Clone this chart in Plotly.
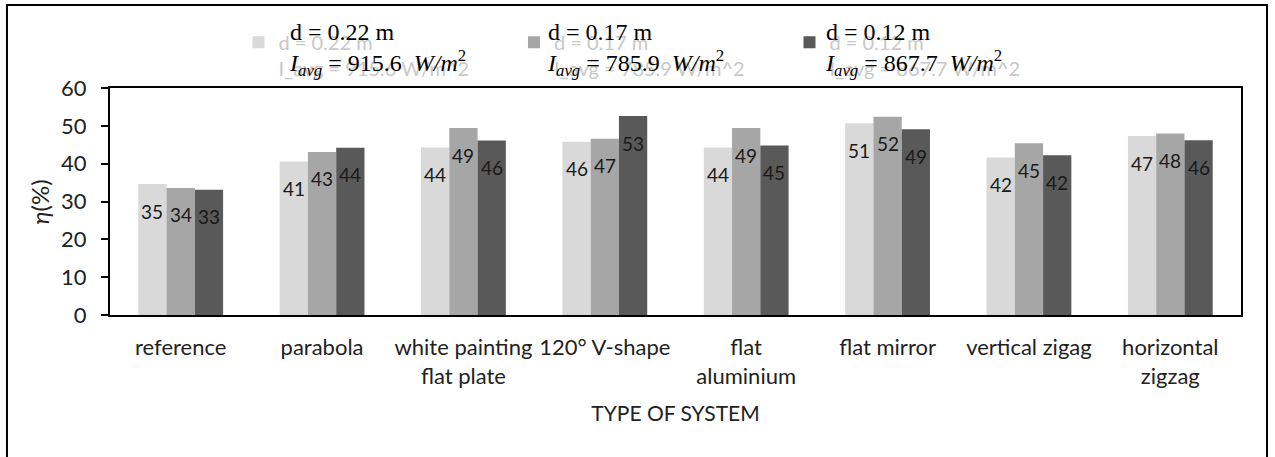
import numpy as np
import plotly.graph_objects as go

categories = ["reference", "parabola", "white painting<br>flat plate", "120° V-shape",
              "flat<br>aluminium", "flat mirror", "vertical zigag", "horizontal<br>zigzag"]
series_names = ["d = 0.22 m<br>I_avg = 915.6 W/m^2",
                "d = 0.17 m<br>I_avg = 785.9 W/m^2",
                "d = 0.12 m<br>I_avg = 867.7 W/m^2"]
series_labels = ["d = 0.22 m<br><i>I</i><sub><i>avg</i></sub> = 915.6  <i>W/m</i><sup>2</sup>",
                 "d = 0.17 m<br><i>I</i><sub><i>avg</i></sub> = 785.9  <i>W/m</i><sup>2</sup>",
                 "d = 0.12 m<br><i>I</i><sub><i>avg</i></sub> = 867.7  <i>W/m</i><sup>2</sup>"]
eta_d022 = [34.6, 40.6, 44.3, 45.8, 44.3, 50.7, 41.6, 47.3]
eta_d017 = [33.6, 43.1, 49.4, 46.6, 49.4, 52.4, 45.4, 48.0]
eta_d012 = [33.1, 44.2, 46.1, 52.6, 44.8, 49.1, 42.2, 46.2]
y_ticks = [0, 10, 20, 30, 40, 50, 60]

colors = ["#d9d9d9", "#a6a6a6", "#595959"]
series = [eta_d022, eta_d017, eta_d012]
x = np.arange(len(categories))
bar_w = 0.2

fig = go.Figure()
annotations = []
for k, (vals, name, col) in enumerate(zip(series, series_names, colors)):
    fig.add_trace(go.Bar(x=x, y=vals, name=name, marker=dict(color=col, line=dict(width=0)),
                         width=bar_w, offset=(k - 1.5) * bar_w))
    for xi, v in zip(x, vals):
        annotations.append(dict(x=xi + (k - 1) * bar_w, y=v, xref="x", yref="y",
                                text=f"{v:.0f}", showarrow=False, yanchor="middle",
                                yshift=-27, font=dict(size=19, color="#1a1a1a")))

ann_x = [0.1565, 0.3846, 0.6303]
for ax_, lab in zip(ann_x, series_labels):
    annotations.append(dict(x=ax_, y=1.1718, xref="paper", yref="paper", text=lab,
                            showarrow=False, xanchor="left", yanchor="middle", align="left",
                            font=dict(family="Liberation Serif", size=24, color="black")))

# y-axis title
annotations.append(dict(x=-0.062, y=0.5, xref="paper", yref="paper", text="<i>η</i>(%)",
                        showarrow=False, textangle=-90, xanchor="center", yanchor="middle",
                        font=dict(size=24, color="#222222")))

fig.update_layout(
    width=1275, height=457,
    margin=dict(l=110, r=34, t=88, b=142, autoexpand=False),
    paper_bgcolor="white", plot_bgcolor="white",
    font=dict(family="Lato", color="#222222"),
    barmode="overlay",
    showlegend=True,
    legend=dict(orientation="h", x=0.1136, xanchor="left", y=1.2876, yanchor="top",
                font=dict(size=20, color="#c8c8c8"), valign="top",
                entrywidth=230.5, entrywidthmode="pixels", bgcolor="rgba(0,0,0,0)",
                traceorder="normal"),
    annotations=annotations,
    shapes=[dict(type="rect", xref="paper", yref="paper", x0=-0.0911, x1=1.023,
                 y0=-0.75, y1=1.3656, line=dict(color="black", width=2))],
)
fig.update_xaxes(range=[-0.5, 7.5], tickvals=x, ticktext=categories, ticks="",
                 showline=True, linewidth=2, linecolor="black", mirror=True,
                 showgrid=False, zeroline=False, tickfont=dict(size=22),
                 ticklabelstandoff=12,
                 title=dict(text="TYPE OF SYSTEM", font=dict(size=21), standoff=18))
fig.update_yaxes(range=[0, 60], tickvals=y_ticks, ticks="outside", ticklen=7, tickwidth=2,
                 tickcolor="black", showline=True, linewidth=2, linecolor="black",
                 mirror=True, showgrid=False, zeroline=False, tickfont=dict(size=22),
                 ticklabelstandoff=10)

fig.write_html("out.html", config={"displayModeBar": False},
               post_script="document.body.style.margin='0';")
